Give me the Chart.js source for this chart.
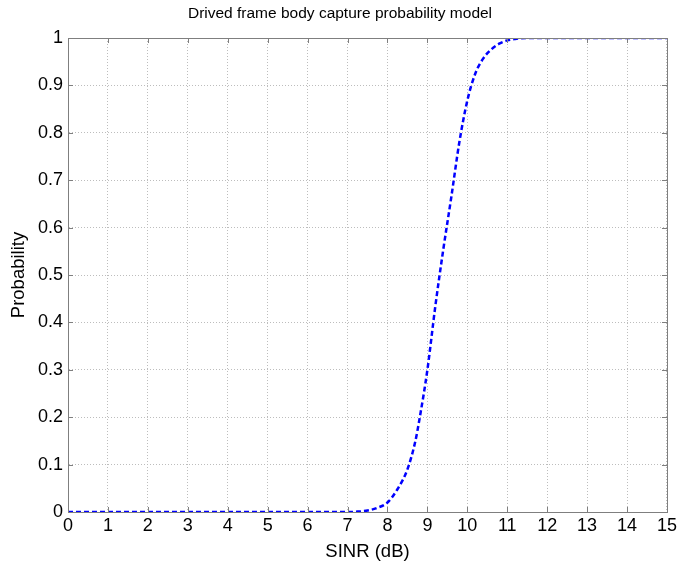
<!DOCTYPE html>
<html>
<head>
<meta charset="utf-8">
<script src="https://cdn.jsdelivr.net/npm/chart.js@4.4.1/dist/chart.umd.min.js"></script>
<style>
html,body{margin:0;padding:0;background:#fff;}
#wrap{width:680px;height:567px;position:relative;}
</style>
</head>
<body>
<div id="wrap"><canvas id="c" width="680" height="567"></canvas></div>
<script>
const chartTitle = "Drived frame body capture probability model";
const xLabel = "SINR (dB)";
const yLabel = "Probability";
const sinr = [0, 1, 2, 3, 4, 5, 6, 7, 7.25, 7.5, 7.75, 8, 8.25, 8.5, 8.7, 8.8, 9, 9.2, 9.4, 9.6, 9.8, 10, 10.2, 10.4, 10.6, 10.8, 11, 11.2, 11.5, 12, 13, 14, 15];
const probability = [0, 0, 0, 0, 0, 0, 0, 0, 0.0008, 0.003, 0.009, 0.02, 0.048, 0.09, 0.15, 0.195, 0.30, 0.435, 0.555, 0.665, 0.78, 0.868, 0.925, 0.957, 0.976, 0.988, 0.995, 0.998, 1, 1, 1, 1, 1];
const xTicks = [0,1,2,3,4,5,6,7,8,9,10,11,12,13,14,15];
const yTicks = [0,0.1,0.2,0.3,0.4,0.5,0.6,0.7,0.8,0.9,1];

const FONT = "'Liberation Sans', Arial, Helvetica, sans-serif";

const framePlugin = {
  id: 'frame',
  afterDatasetsDraw(chart) {
    const {ctx, chartArea: a, scales} = chart;
    ctx.save();
    ctx.strokeStyle = '#7f7f7f';
    ctx.lineWidth = 1;
    const tl = 5;
    ctx.beginPath();
    xTicks.forEach(v => {
      const px = Math.round(scales.x.getPixelForValue(v)) + 0.5;
      ctx.moveTo(px, a.bottom); ctx.lineTo(px, a.bottom - tl);
      ctx.moveTo(px, a.top); ctx.lineTo(px, a.top + tl);
    });
    yTicks.forEach(v => {
      const py = Math.round(scales.y.getPixelForValue(v)) + 0.5;
      ctx.moveTo(a.left, py); ctx.lineTo(a.left + tl, py);
      ctx.moveTo(a.right, py); ctx.lineTo(a.right - tl, py);
    });
    ctx.stroke();
    ctx.strokeRect(Math.round(a.left) + 0.5, Math.round(a.top) + 0.5, Math.round(a.right - a.left), Math.round(a.bottom - a.top));
    ctx.restore();
  }
};

new Chart(document.getElementById('c'), {
  type: 'line',
  data: {
    datasets: [{
      data: sinr.map((x, i) => ({x: x, y: probability[i]})),
      borderColor: '#0000ff',
      borderWidth: 2.5,
      borderDash: [5, 3],
      pointRadius: 0,
      fill: false,
      cubicInterpolationMode: 'monotone'
    }]
  },
  options: {
    responsive: false,
    animation: false,
    layout: {padding: {left: 0, right: 0, top: 0, bottom: 0}},
    plugins: {
      legend: {display: false},
      tooltip: {enabled: false},
      title: {
        display: true,
        text: chartTitle,
        color: '#000',
        font: {family: FONT, size: 15.5, weight: 'normal'},
        padding: {top: 4, bottom: 15.4}
      }
    },
    scales: {
      x: {
        type: 'linear',
        min: 0, max: 15,
        afterFit(s) { s.height = 55; },
        afterBuildTicks(s) { s.ticks = xTicks.map(v => ({value: v})); },
        ticks: {color: '#000', font: {family: FONT, size: 18}, padding: 3, maxRotation: 0,
                callback: v => String(v)},
        grid: {color: '#bdbdbd', lineWidth: 1, drawTicks: false},
        border: {display: true, color: '#7f7f7f', dash: [1, 2]},
        title: {display: true, text: xLabel, color: '#000', font: {family: FONT, size: 18.5}, padding: {top: 2}}
      },
      y: {
        type: 'linear',
        position: 'left',
        min: 0, max: 1,
        afterFit(s) { s.width = 68; },
        afterBuildTicks(s) { s.ticks = yTicks.map(v => ({value: v})); },
        ticks: {color: '#000', font: {family: FONT, size: 18}, padding: 5,
                callback: v => String(Math.round(v * 10) / 10)},
        grid: {color: '#bdbdbd', lineWidth: 1, drawTicks: false},
        border: {display: true, color: '#7f7f7f', dash: [1, 2]},
        title: {display: true, text: yLabel, color: '#000', font: {family: FONT, size: 18.5}, padding: {top: 8, bottom: 0}}
      },
      yRight: {
        type: 'linear',
        position: 'right',
        min: 0, max: 1,
        afterFit(s) { s.width = 11; },
        ticks: {display: false},
        grid: {display: false, drawTicks: false},
        border: {display: false}
      }
    }
  },
  plugins: [framePlugin]
});
</script>
</body>
</html>
